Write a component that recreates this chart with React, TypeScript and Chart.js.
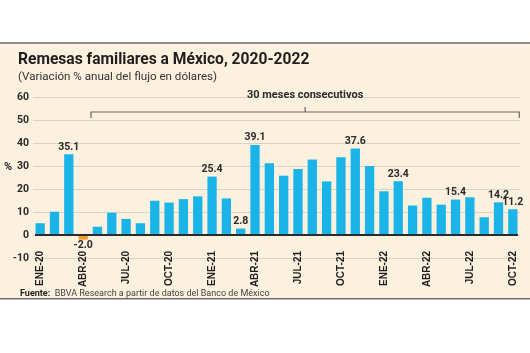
import React, { useEffect, useRef } from 'react';
import { Chart, registerables } from 'chart.js';

Chart.register(...registerables);

const months: string[] = [
  'ENE-20', 'FEB-20', 'MAR-20', 'ABR-20', 'MAY-20', 'JUN-20', 'JUL-20', 'AGO-20', 'SEP-20', 'OCT-20', 'NOV-20', 'DIC-20',
  'ENE-21', 'FEB-21', 'MAR-21', 'ABR-21', 'MAY-21', 'JUN-21', 'JUL-21', 'AGO-21', 'SEP-21', 'OCT-21', 'NOV-21', 'DIC-21',
  'ENE-22', 'FEB-22', 'MAR-22', 'ABR-22', 'MAY-22', 'JUN-22', 'JUL-22', 'AGO-22', 'SEP-22', 'OCT-22',
];

const values: number[] = [
  5.1, 10.1, 35.1, -2.0, 3.6, 9.7, 7.0, 5.1, 14.9, 14.1, 15.6, 16.8,
  25.4, 15.9, 2.8, 39.1, 31.2, 25.8, 28.7, 32.8, 23.3, 33.8, 37.6, 30.0,
  19.0, 23.4, 12.8, 16.2, 13.2, 15.4, 16.4, 7.7, 14.2, 11.2,
];

const labeledMonths: string[] = ['MAR-20', 'ABR-20', 'ENE-21', 'MAR-21', 'ABR-21', 'NOV-21', 'FEB-22', 'JUN-22', 'SEP-22', 'OCT-22'];
const tickMonths: string[] = ['ENE-20', 'ABR-20', 'JUL-20', 'OCT-20', 'ENE-21', 'ABR-21', 'JUL-21', 'OCT-21', 'ENE-22', 'ABR-22', 'JUL-22', 'OCT-22'];
const yMin = -10;
const yMax = 60;
const yStep = 10;

const bracketFrom = 'MAY-20';
const bracketTo = 'OCT-22';
const bracketText = '30 meses consecutivos';

const titleText = 'Remesas familiares a México, 2020-2022';
const subtitleText = '(Variación % anual del flujo en dólares)';
const sourceLabel = 'Fuente:';
const sourceText = 'BBVA Research a partir de datos del Banco de México';

const CREAM = '#fcf0df';
const BLUE = '#1bb4e8';
const ORANGE = '#f39c2a';
const DARK = '#2b2b2b';

const decorPlugin = {
  id: 'decor',
  beforeDraw(chart: any) {
    const { ctx, width } = chart;
    ctx.save();
    ctx.fillStyle = '#ffffff';
    ctx.fillRect(0, 0, width, chart.height);
    ctx.fillStyle = CREAM;
    ctx.fillRect(0, 43, width, 256);
    ctx.fillStyle = '#8e8e8e';
    ctx.fillRect(0, 42, width, 2);
    ctx.fillStyle = '#6e6e6e';
    ctx.fillRect(0, 298, width, 1.5);
    ctx.restore();
  },
  afterDatasetsDraw(chart: any) {
    const { ctx, chartArea } = chart;
    const x = chart.scales.x;
    const y = chart.scales.y;
    const meta = chart.getDatasetMeta(0);
    ctx.save();
    // zero line
    const y0 = y.getPixelForValue(0);
    ctx.strokeStyle = DARK;
    ctx.lineWidth = 2;
    ctx.beginPath();
    ctx.moveTo(chartArea.left + 2, y0);
    ctx.lineTo(chartArea.right - 2, y0);
    ctx.stroke();

    // x tick labels (rotated, overlapping the -10 grid line as in the original)
    ctx.fillStyle = '#1e1e1e';
    ctx.font = 'bold 10px "Liberation Sans", Arial, sans-serif';
    ctx.textAlign = 'right';
    ctx.textBaseline = 'middle';
    tickMonths.forEach((m) => {
      const i = months.indexOf(m);
      const px = x.getPixelForValue(i);
      ctx.save();
      ctx.translate(px + 0.5, y.getPixelForValue(yMin) - 7);
      ctx.rotate(-Math.PI / 2);
      ctx.fillText(m, 0, 0);
      ctx.restore();
    });

    // value labels
    ctx.font = 'bold 10.5px Roboto, "Liberation Sans", sans-serif';
    ctx.fillStyle = DARK;
    ctx.textAlign = 'center';
    labeledMonths.forEach((m) => {
      const i = months.indexOf(m);
      const el = meta.data[i];
      const v = values[i];
      const txt = v.toFixed(1);
      if (v >= 0) {
        ctx.textBaseline = 'bottom';
        ctx.fillText(txt, el.x, el.y - 2);
      } else {
        ctx.textBaseline = 'top';
        ctx.fillText(txt, el.x, el.y + 1);
      }
    });

    // bracket
    const step = x.getPixelForValue(1) - x.getPixelForValue(0);
    const bx1 = x.getPixelForValue(months.indexOf(bracketFrom)) - step * 0.45;
    const bx2 = x.getPixelForValue(months.indexOf(bracketTo)) + step * 0.45;
    const by = 112;
    ctx.strokeStyle = '#666666';
    ctx.lineWidth = 1.2;
    ctx.beginPath();
    ctx.moveTo(bx1, by + 6);
    ctx.lineTo(bx1, by);
    ctx.lineTo(bx2, by);
    ctx.lineTo(bx2, by + 6);
    const mid = (bx1 + bx2) / 2;
    ctx.moveTo(mid, by);
    ctx.lineTo(mid, by - 5);
    ctx.stroke();
    ctx.font = 'bold 11px Roboto, "Liberation Sans", sans-serif';
    ctx.fillStyle = DARK;
    ctx.textAlign = 'center';
    ctx.textBaseline = 'middle';
    ctx.fillText(bracketText, mid, 95);

    // percent sign
    ctx.font = 'bold 11px Roboto, "Liberation Sans", sans-serif';
    ctx.textAlign = 'center';
    ctx.fillText('%', 8, y.getPixelForValue(30) + 1);

    // title & subtitle
    ctx.textAlign = 'left';
    ctx.textBaseline = 'alphabetic';
    ctx.fillStyle = '#1e1e1e';
    ctx.font = 'bold 15.6px Roboto, "Liberation Sans", sans-serif';
    ctx.fillText(titleText, 18, 63.5);
    ctx.fillStyle = '#333333';
    ctx.font = '11.6px Roboto, "Liberation Sans", sans-serif';
    ctx.fillText(subtitleText, 18, 79.5);

    // source
    ctx.textBaseline = 'middle';
    ctx.font = 'bold 9px Roboto, "Liberation Sans", sans-serif';
    ctx.fillStyle = '#1e1e1e';
    ctx.fillText(sourceLabel, 20, 293.5);
    const w = ctx.measureText(sourceLabel + '  ').width;
    ctx.font = '9px Roboto, "Liberation Sans", sans-serif';
    ctx.fillStyle = '#444444';
    ctx.fillText(sourceText, 20 + w, 293.5);
    ctx.restore();
  },
};

export default function App() {
  const ref = useRef<HTMLCanvasElement | null>(null);
  useEffect(() => {
    document.body.style.margin = '0';
    const canvas = ref.current;
    if (!canvas) return;
    const chart = new Chart(canvas, {
      type: 'bar',
      data: {
        labels: months,
        datasets: [
          {
            data: values,
            backgroundColor: values.map((v) => (v < 0 ? ORANGE : BLUE)),
            borderWidth: 0,
            barPercentage: 0.65,
            categoryPercentage: 1,
          },
        ],
      },
      options: {
        responsive: false,
        animation: false,
        devicePixelRatio: 1,
        layout: { padding: { top: 97, left: 0, right: 10, bottom: 55 } },
        plugins: { legend: { display: false }, tooltip: { enabled: false }, title: { display: false } },
        scales: {
          x: {
            grid: { display: false, drawTicks: false },
            border: { display: false },
            ticks: { display: false },
            afterFit: (s: any) => {
              s.height = 40;
            },
          },
          y: {
            min: yMin,
            max: yMax,
            grid: {
              drawTicks: false,
              color: '#d9d3ca',
              lineWidth: 1,
            },
            border: { display: false },
            ticks: {
              stepSize: yStep,
              padding: 4,
              color: '#2b2b2b',
              font: { family: 'Roboto, "Liberation Sans", sans-serif', size: 10.5, weight: 'bold' },
            },
            afterFit: (s: any) => {
              s.width = 33;
            },
          },
        },
      },
      plugins: [decorPlugin],
    } as any);
    return () => chart.destroy();
  }, []);
  return (
    <div style={{ position: 'absolute', left: 0, top: 0, width: 530, height: 353 }}>
      <canvas ref={ref} width={530} height={353} />
    </div>
  );
}
